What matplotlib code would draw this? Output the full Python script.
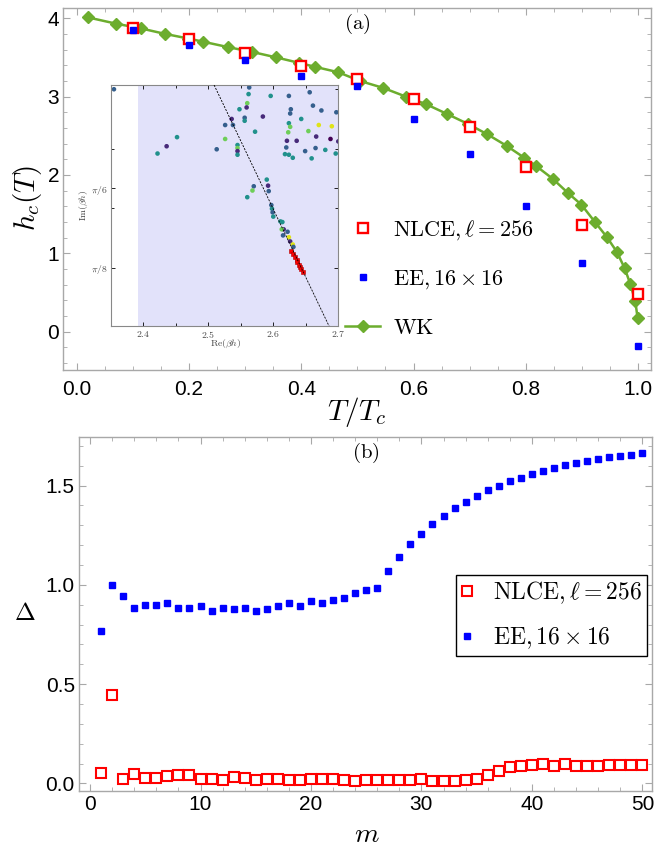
import numpy as np
import matplotlib
matplotlib.use('Agg')
import matplotlib.pyplot as plt
from matplotlib.ticker import MultipleLocator, FixedLocator, FormatStrFormatter

plt.rcParams['font.family'] = 'Liberation Sans'
plt.rcParams['mathtext.fontset'] = 'cm'

# ---- panel (a): critical field vs temperature
T_pts = [0.1, 0.2, 0.3, 0.4, 0.5, 0.6, 0.7, 0.8, 0.9, 1.0]
h_nlce = [3.88, 3.73, 3.56, 3.39, 3.22, 2.97, 2.61, 2.10, 1.36, 0.48]
h_ee = [3.85, 3.66, 3.46, 3.26, 3.14, 2.71, 2.27, 1.60, 0.88, -0.18]

T_wk = [0.020, 0.070, 0.114, 0.157, 0.199, 0.225, 0.270, 0.312, 0.355, 0.396,
        0.424, 0.466, 0.504, 0.546, 0.586, 0.623, 0.659, 0.697, 0.731, 0.766,
        0.797, 0.819, 0.848, 0.875, 0.899, 0.923, 0.944, 0.962, 0.976, 0.986,
        0.995, 0.999]
h_wk = [4.01, 3.93, 3.87, 3.80, 3.74, 3.70, 3.63, 3.57, 3.50, 3.43,
        3.38, 3.31, 3.20, 3.11, 3.00, 2.90, 2.78, 2.65, 2.52, 2.37,
        2.22, 2.11, 1.95, 1.77, 1.62, 1.40, 1.21, 1.02, 0.81, 0.61,
        0.39, 0.18]

# ---- inset: zeros in the complex beta*h plane
z_re = [2.355, 2.563, 2.562, 2.596, 2.624, 2.656, 2.560, 2.559, 2.548, 2.627,
        2.626, 2.661, 2.674, 2.697, 2.536, 2.526, 2.538, 2.556, 2.556, 2.584,
        2.572, 2.624, 2.626, 2.643, 2.623, 2.670, 2.690, 2.654, 2.526, 2.452,
        2.436, 2.422, 2.513, 2.545, 2.545, 2.545, 2.545, 2.621, 2.636, 2.666,
        2.688, 2.700, 2.620, 2.665, 2.649, 2.680, 2.696, 2.618, 2.624, 2.630,
        2.659, 2.590, 2.592, 2.593, 2.570, 2.568, 2.560, 2.597, 2.598, 2.599,
        2.600, 2.611, 2.614, 2.616, 2.613, 2.622, 2.615, 2.624, 2.626, 2.630,
        2.631]
z_im = [0.687, 0.690, 0.679, 0.676, 0.676, 0.682, 0.664, 0.657, 0.654, 0.654,
        0.647, 0.660, 0.652, 0.649, 0.638, 0.628, 0.628, 0.640, 0.635, 0.642,
        0.617, 0.631, 0.625, 0.638, 0.616, 0.628, 0.626, 0.618, 0.605, 0.608,
        0.593, 0.581, 0.588, 0.595, 0.590, 0.585, 0.579, 0.602, 0.602, 0.609,
        0.605, 0.601, 0.591, 0.590, 0.585, 0.587, 0.581, 0.580, 0.579, 0.574,
        0.573, 0.538, 0.528, 0.519, 0.527, 0.520, 0.509, 0.496, 0.490, 0.484,
        0.477, 0.469, 0.468, 0.456, 0.456, 0.452, 0.446, 0.443, 0.436, 0.431,
        0.427]
z_col = [0.30, 0.30, 0.50, 0.50, 0.30, 0.30, 0.78, 0.12, 0.50, 0.30,
         0.30, 0.30, 0.30, 0.30, 0.12, 0.30, 0.30, 0.30, 0.50, 0.12,
         0.50, 0.50, 0.78, 0.50, 0.78, 0.95, 0.95, 0.78, 0.78, 0.50,
         0.12, 0.50, 0.30, 0.50, 0.78, 0.12, 0.50, 0.12, 0.12, 0.12,
         0.00, 0.12, 0.30, 0.30, 0.30, 0.50, 0.50, 0.50, 0.50, 0.50,
         0.50, 0.50, 0.12, 0.30, 0.30, 0.78, 0.50, 0.30, 0.50, 0.30,
         0.50, 0.50, 0.50, 0.12, 0.78, 0.30, 0.30, 0.95, 0.12, 0.95,
         0.30]
red_re = [2.627, 2.630, 2.633, 2.636, 2.637, 2.639, 2.641, 2.643, 2.645]
red_im = [0.421, 0.416, 0.411, 0.406, 0.402, 0.398, 0.394, 0.390, 0.386]
line_re = [2.509, 2.686]
line_im = [0.694, 0.296]

# ---- panel (b): Delta vs m
m = np.arange(1, 51)
d_nlce = [0.054, 0.447, 0.021, 0.048, 0.028, 0.026, 0.038, 0.041, 0.041, 0.024,
          0.024, 0.019, 0.031, 0.029, 0.019, 0.021, 0.022, 0.016, 0.016, 0.021,
          0.021, 0.022, 0.016, 0.013, 0.016, 0.016, 0.016, 0.016, 0.016, 0.021,
          0.011, 0.011, 0.010, 0.018, 0.022, 0.041, 0.065, 0.083, 0.090, 0.095,
          0.098, 0.088, 0.097, 0.090, 0.087, 0.090, 0.095, 0.092, 0.092, 0.092]
d_ee = [0.766, 0.999, 0.946, 0.884, 0.897, 0.900, 0.907, 0.885, 0.885, 0.892,
        0.870, 0.882, 0.879, 0.885, 0.867, 0.877, 0.895, 0.910, 0.894, 0.917,
        0.910, 0.924, 0.934, 0.961, 0.973, 0.986, 1.068, 1.142, 1.204, 1.258,
        1.307, 1.349, 1.387, 1.419, 1.449, 1.476, 1.500, 1.522, 1.540, 1.558,
        1.575, 1.589, 1.602, 1.612, 1.624, 1.632, 1.642, 1.649, 1.654, 1.663]

spine_c = '#a8a8a8'
green = '#6cad2e'


def style_axes(ax):
    for s in ax.spines.values():
        s.set_color(spine_c)
        s.set_linewidth(1.0)
    ax.tick_params(which='both', direction='in', top=True, right=True,
                   color=spine_c, labelsize=15)
    ax.tick_params(which='major', length=5)
    ax.tick_params(which='minor', length=3)


fig = plt.figure(figsize=(6.68, 8.52), dpi=100)
W, H = 668.0, 852.0

# ---- (a)
ax1 = fig.add_axes([63.3 / W, 1 - 370 / H, (651 - 63.3) / W, (370 - 8) / H])
l_wk, = ax1.plot(T_wk, h_wk, '-', color=green, lw=1.8, marker='D', ms=6,
                 mec=green, mfc=green, label=r'$\mathrm{WK}$', zorder=2)
l_n, = ax1.plot(T_pts, h_nlce, 's', ms=7, mfc='white', mec='#ff0000', mew=1.7,
                label=r'$\mathrm{NLCE},\ell=256$', zorder=3, linestyle='none')
l_e, = ax1.plot(T_pts, h_ee, 's', ms=4.8, color='#0000ff',
                label=r'$\mathrm{EE},16\times16$', zorder=4, linestyle='none')
ax1.set_xlim(-0.024, 1.023)
ax1.set_ylim(-0.49, 4.13)
ax1.xaxis.set_major_locator(MultipleLocator(0.2))
ax1.xaxis.set_minor_locator(MultipleLocator(0.05))
ax1.xaxis.set_major_formatter(FormatStrFormatter('%.1f'))
ax1.yaxis.set_major_locator(MultipleLocator(1))
ax1.yaxis.set_minor_locator(MultipleLocator(0.2))
style_axes(ax1)
ax1.tick_params(axis='x', pad=7)
ax1.tick_params(axis='y', pad=3)
ax1.legend(handles=[l_n, l_e, l_wk], loc='center left',
           bbox_to_anchor=(0.479, 0.253), frameon=False, fontsize=16,
           borderaxespad=0, borderpad=0, handlelength=1.6,
           handletextpad=0.55, labelspacing=1.2, numpoints=1)
ax1.text(0.5, 0.955, r'$\mathrm{(a)}$', transform=ax1.transAxes,
         ha='center', va='center', fontsize=15)

# inset
axi = fig.add_axes([110.7 / W, 1 - 326 / H, (338.3 - 110.7) / W, (326 - 85) / H])
axi.axvspan(2.392, 2.71, color='#e2e2fa', lw=0, zorder=0)
axi.scatter(z_re, z_im, c=z_col, cmap='viridis', vmin=0, vmax=1, s=11,
            lw=0, zorder=2)
axi.plot(red_re, red_im, 's', ms=2.6, color='#ff0000', mec='#b00000', mew=0.4,
         zorder=3, linestyle='none')
axi.plot(line_re, line_im, '--', color='black', lw=0.6, dashes=(2.5, 1.5),
         zorder=4)
axi.set_xlim(2.35, 2.70)
axi.set_ylim(0.2966, 0.694)
axi.xaxis.set_major_locator(FixedLocator([2.4, 2.5, 2.6, 2.7]))
axi.xaxis.set_minor_locator(MultipleLocator(0.05))
axi.set_xticklabels([r'$2.4$', r'$2.5$', r'$2.6$', r'$2.7$'])
axi.yaxis.set_major_locator(FixedLocator([np.pi / 8, np.pi / 6]))
axi.yaxis.set_minor_locator(FixedLocator([5 * np.pi / 32, 3 * np.pi / 16, 7 * np.pi / 32]))
axi.set_yticklabels([r'$\pi/8$', r'$\pi/6$'])
for s in axi.spines.values():
    s.set_color('#888888')
    s.set_linewidth(0.8)
axi.tick_params(which='both', direction='in', top=True, right=True,
                color='black', width=0.6, labelsize=7, labelcolor='#444444', pad=2)
axi.tick_params(which='major', length=3)
axi.tick_params(which='minor', length=2)
axi.set_xlabel(r'$\mathrm{Re}(\beta h)$', fontsize=7, color='#444444')
axi.xaxis.set_label_coords(0.507, -0.048)
axi.set_ylabel(r'$\mathrm{Im}(\beta h)$', fontsize=7, color='#444444', labelpad=1)

fig.text(28 / W, 1 - 198 / H, r'$h_c(T)$', rotation=90, fontsize=21,
         ha='center', va='center')
fig.text(357 / W, 1 - 412 / H, r'$T/T_c$', fontsize=21, ha='center', va='center')

# ---- (b)
ax2 = fig.add_axes([79 / W, 1 - 791 / H, (652.3 - 79) / W, (791 - 437) / H])
p_n, = ax2.plot(m, d_nlce, 's', ms=6.5, mfc='white', mec='#ff0000', mew=1.5,
                label=r'$\mathrm{NLCE},\ell=256$', linestyle='none', zorder=3)
p_e, = ax2.plot(m, d_ee, 's', ms=4.3, color='#0000ff',
                label=r'$\mathrm{EE},16\times16$', linestyle='none', zorder=4)
ax2.set_xlim(-1.0, 50.9)
ax2.set_ylim(-0.038, 1.745)
ax2.xaxis.set_major_locator(MultipleLocator(10))
ax2.xaxis.set_minor_locator(MultipleLocator(2))
ax2.yaxis.set_major_locator(MultipleLocator(0.5))
ax2.yaxis.set_minor_locator(MultipleLocator(0.1))
ax2.yaxis.set_major_formatter(FormatStrFormatter('%.1f'))
style_axes(ax2)
ax2.tick_params(axis='both', pad=3)
leg = ax2.legend(handles=[p_n, p_e], loc='upper right',
                 bbox_to_anchor=(0.991, 0.610), fontsize=17, fancybox=False,
                 edgecolor='black', borderaxespad=0, borderpad=0.2,
                 handlelength=0.6, handletextpad=0.8, labelspacing=0.8,
                 numpoints=1, framealpha=1)
leg.get_frame().set_linewidth(1.0)
ax2.text(0.5, 0.955, r'$\mathrm{(b)}$', transform=ax2.transAxes,
         ha='center', va='center', fontsize=15)

fig.text(25 / W, 1 - 613 / H, r'$\Delta$', fontsize=18, ha='center', va='center')
fig.text(367 / W, 1 - 835 / H, r'$m$', fontsize=20, ha='center', va='center')

plt.savefig('out.png', dpi=100)
